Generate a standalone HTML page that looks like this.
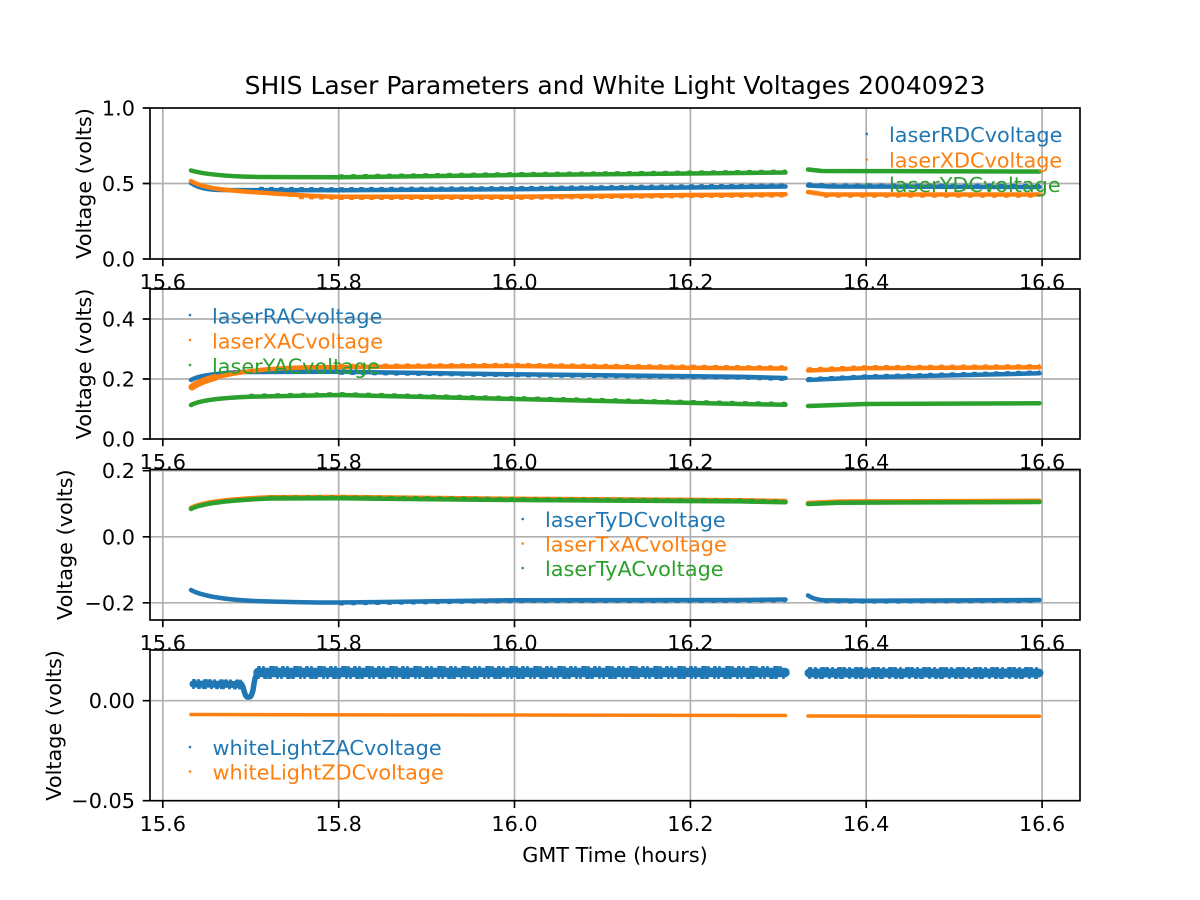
<!DOCTYPE html>
<html>
<head>
<meta charset="utf-8">
<style>
  html,body{margin:0;padding:0;background:#fff;}
  svg{display:block;}
  text{font-family:"DejaVu Sans","Liberation Sans",sans-serif;}
</style>
</head>
<body>
<svg width="1200" height="900" viewBox="0 0 1200 900" xmlns="http://www.w3.org/2000/svg">
<rect x="0" y="0" width="1200" height="900" fill="#fff"/>

<!-- Title -->
<text x="615" y="94" font-size="25" text-anchor="middle" fill="#000">SHIS Laser Parameters and White Light Voltages 20040923</text>

<!-- ================= AXES 1 ================= -->
<g>
  <rect x="150" y="108" width="930" height="151" fill="#fff"/>
  <g stroke="#b0b0b0" stroke-width="1.67" fill="none">
    <path d="M162.8,108V259M338.7,108V259M514.5,108V259M690.4,108V259M866.2,108V259M1042.1,108V259"/>
    <path d="M150,183.5H1080"/>
  </g>
  <g fill="none" stroke-linecap="round" stroke-linejoin="round">
    <!-- blue laserRDC -->
    <path stroke="#1f77b4" stroke-width="4.5" d="M191,183 C197,187 204,189.5 220,190 L340,190.3 L515,189.2 L690,187.5 L785.5,186.5"/>
    <path stroke="#1f77b4" stroke-width="4.5" d="M808,185.5 L830,186.5 L1039.5,187"/>
    <path stroke="#1f77b4" stroke-width="2" stroke-dasharray="3 7" transform="translate(0,-2.2)" d="M260,190 L340,190.3 L515,189.2 L690,187.5 L785.5,186.5"/>
    <path stroke="#1f77b4" stroke-width="2" stroke-dasharray="3 9" transform="translate(0,-2.2)" d="M808,185.5 L830,186.5 L1039.5,187"/>
    <!-- orange laserXDC -->
    <path stroke="#ff7f0e" stroke-width="4.5" d="M191,181 C200,186.5 215,189.5 245,191.5 C285,194.5 315,196.5 340,196.8 L515,196.8 L690,195 L785.5,194.3"/>
    <path stroke="#ff7f0e" stroke-width="4.5" d="M808,192 L825,194.5 L1039.5,194.5"/>
    <path stroke="#ff7f0e" stroke-width="2" stroke-dasharray="3 7" transform="translate(0,2.2)" d="M300,196 L340,196.8 L515,196.8 L690,195 L785.5,194.3"/>
    <path stroke="#ff7f0e" stroke-width="2" stroke-dasharray="3 9" transform="translate(0,2.2)" d="M825,194.5 L1039.5,194.5"/>
    <!-- green laserYDC -->
    <path stroke="#2ca02c" stroke-width="4.5" d="M191,170.5 C205,174.5 225,176.5 260,177 L340,177.3 L515,175 L690,173.5 L785.5,172.5"/>
    <path stroke="#2ca02c" stroke-width="4.5" d="M808,169.5 L822,171 L1039.5,171.5"/>
    <path stroke="#2ca02c" stroke-width="2" stroke-dasharray="3 9" transform="translate(0,-2)" d="M340,177.3 L515,175 L690,173.5 L785.5,172.5"/>
  </g>
  <rect x="150" y="108" width="930" height="151" fill="none" stroke="#000" stroke-width="1.67"/>
  <g stroke="#000" stroke-width="1.67">
    <path d="M142.7,108H150M142.7,183.5H150M142.7,259H150"/>
    <path d="M162.8,259V266.3M338.7,259V266.3M514.5,259V266.3M690.4,259V266.3M866.2,259V266.3M1042.1,259V266.3"/>
  </g>
  <g font-size="20.8" fill="#000">
    <text x="135" y="115.5" text-anchor="end">1.0</text>
    <text x="135" y="191" text-anchor="end">0.5</text>
    <text x="135" y="266.5" text-anchor="end">0.0</text>
    <text x="162.8" y="289" text-anchor="middle">15.6</text>
    <text x="338.7" y="289" text-anchor="middle">15.8</text>
    <text x="514.5" y="289" text-anchor="middle">16.0</text>
    <text x="690.4" y="289" text-anchor="middle">16.2</text>
    <text x="866.2" y="289" text-anchor="middle">16.4</text>
    <text x="1042.1" y="289" text-anchor="middle">16.6</text>
    <text transform="translate(91,183.5) rotate(-90)" text-anchor="middle">Voltage (volts)</text>
  </g>
  <g font-size="20.8">
    <circle cx="866.7" cy="134" r="1.3" fill="#1f77b4"/>
    <circle cx="866.7" cy="159.5" r="1.3" fill="#ff7f0e"/>
    <circle cx="866.7" cy="184" r="1.3" fill="#2ca02c"/>
    <text x="889" y="142" fill="#1f77b4">laserRDCvoltage</text>
    <text x="889" y="167.5" fill="#ff7f0e">laserXDCvoltage</text>
    <text x="889" y="192" fill="#2ca02c">laserYDCvoltage</text>
  </g>
</g>

<!-- ================= AXES 2 ================= -->
<g>
  <rect x="150" y="289" width="930" height="150" fill="#fff"/>
  <g stroke="#b0b0b0" stroke-width="1.67" fill="none">
    <path d="M162.8,289V439M338.7,289V439M514.5,289V439M690.4,289V439M866.2,289V439M1042.1,289V439"/>
    <path d="M150,319H1080M150,379H1080"/>
  </g>
  <g fill="none" stroke-linecap="round" stroke-linejoin="round">
    <!-- blue laserRAC -->
    <path stroke="#1f77b4" stroke-width="4.5" d="M191,380 C198,376 210,374 240,372 L340,371.8 L515,374.3 L740,376.7 L785.5,378"/>
    <path stroke="#1f77b4" stroke-width="4.5" d="M808,380 L866,377.3 L1039.5,373.3"/>
    <path stroke="#1f77b4" stroke-width="2" stroke-dasharray="3 8" transform="translate(0,2)" d="M340,371.8 L515,374.3 L740,376.7 L785.5,378"/>
    <path stroke="#1f77b4" stroke-width="2" stroke-dasharray="3 8" transform="translate(0,-2)" d="M808,380 L866,377.3 L1039.5,373.3"/>
    <!-- orange laserXAC -->
    <path stroke="#ff7f0e" stroke-width="4.5" d="M191,386.7 C200,380 225,374 260,370 C285,367.5 310,367 340,367 L515,366 L740,368.3 L785.5,368.5"/>
    <path stroke="#ff7f0e" stroke-width="7" d="M192,387 C198,383 205,380 215,377.5"/>
    <path stroke="#ff7f0e" stroke-width="4.5" d="M808,370.5 L866,368.3 L1039.5,367.3"/>
    <path stroke="#ff7f0e" stroke-width="2" stroke-dasharray="3 8" transform="translate(0,-2.2)" d="M340,367 L515,366 L740,368.3 L785.5,368.5"/>
    <path stroke="#ff7f0e" stroke-width="2" stroke-dasharray="3 8" transform="translate(0,-2.2)" d="M808,370.5 L866,368.3 L1039.5,367.3"/>
    <!-- green laserYAC -->
    <path stroke="#2ca02c" stroke-width="4.5" d="M191,405 C198,401 215,398 250,396.7 L340,395 L515,399 L740,404 L785.5,404.7"/>
    <path stroke="#2ca02c" stroke-width="4.5" d="M808,406 L866,404 L1039.5,403.3"/>
    <path stroke="#2ca02c" stroke-width="2" stroke-dasharray="3 10" transform="translate(0,-2)" d="M250,396.7 L340,395 L515,399 L740,404 L785.5,404.7"/>
  </g>
  <rect x="150" y="289" width="930" height="150" fill="none" stroke="#000" stroke-width="1.67"/>
  <g stroke="#000" stroke-width="1.67">
    <path d="M142.7,319H150M142.7,379H150M142.7,439H150"/>
    <path d="M162.8,439V446.3M338.7,439V446.3M514.5,439V446.3M690.4,439V446.3M866.2,439V446.3M1042.1,439V446.3"/>
  </g>
  <g font-size="20.8" fill="#000">
    <text x="135" y="326.5" text-anchor="end">0.4</text>
    <text x="135" y="386.5" text-anchor="end">0.2</text>
    <text x="135" y="446.5" text-anchor="end">0.0</text>
    <text x="162.8" y="469" text-anchor="middle">15.6</text>
    <text x="338.7" y="469" text-anchor="middle">15.8</text>
    <text x="514.5" y="469" text-anchor="middle">16.0</text>
    <text x="690.4" y="469" text-anchor="middle">16.2</text>
    <text x="866.2" y="469" text-anchor="middle">16.4</text>
    <text x="1042.1" y="469" text-anchor="middle">16.6</text>
    <text transform="translate(91,364) rotate(-90)" text-anchor="middle">Voltage (volts)</text>
  </g>
  <g font-size="20.8">
    <circle cx="190" cy="315" r="1.3" fill="#1f77b4"/>
    <circle cx="190" cy="340" r="1.3" fill="#ff7f0e"/>
    <circle cx="190" cy="365" r="1.3" fill="#2ca02c"/>
    <text x="212" y="323.5" fill="#1f77b4">laserRACvoltage</text>
    <text x="212" y="348.5" fill="#ff7f0e">laserXACvoltage</text>
    <text x="212" y="373.5" fill="#2ca02c">laserYACvoltage</text>
  </g>
</g>

<!-- ================= AXES 3 ================= -->
<g>
  <rect x="150" y="469.5" width="930" height="150.5" fill="#fff"/>
  <g stroke="#b0b0b0" stroke-width="1.67" fill="none">
    <path d="M162.8,469.5V620M338.7,469.5V620M514.5,469.5V620M690.4,469.5V620M866.2,469.5V620M1042.1,469.5V620"/>
    <path d="M150,470.7H1080M150,536.8H1080M150,602.8H1080"/>
  </g>
  <g fill="none" stroke-linecap="round" stroke-linejoin="round">
    <!-- blue laserTyDC -->
    <path stroke="#1f77b4" stroke-width="4.5" d="M191,590 C200,595 220,599 250,600.8 C280,602 310,602.5 340,602.5 L515,600.2 L740,600 L785.5,599.5"/>
    <path stroke="#1f77b4" stroke-width="4.5" d="M808,595.5 C812,598 816,599.8 825,600.3 L866,600.7 L1039.5,600"/>
    <path stroke="#1f77b4" stroke-width="2" stroke-dasharray="3 9" transform="translate(0,2)" d="M340,602.5 L515,600.2 L740,600 L785.5,599.5"/>
    <path stroke="#1f77b4" stroke-width="2" stroke-dasharray="3 9" transform="translate(0,2)" d="M825,600.3 L866,600.7 L1039.5,600"/>
    <!-- orange laserTxAC -->
    <path stroke="#ff7f0e" stroke-width="4.5" d="M191,507.8 C200,503 225,499 270,497.3 L340,497 L515,498.8 L740,500.2 L785.5,501"/>
    <path stroke="#ff7f0e" stroke-width="4.5" d="M808,503 L840,501.5 L1039.5,500.8"/>
    <!-- green laserTyAC -->
    <path stroke="#2ca02c" stroke-width="4.5" d="M191,509 C200,504 225,500.3 270,498.5 L340,498.3 L515,500 L740,501.4 L785.5,502.3"/>
    <path stroke="#2ca02c" stroke-width="4.5" d="M808,504 L840,502.7 L1039.5,502"/>
    <path stroke="#2ca02c" stroke-width="2" stroke-dasharray="3 9" transform="translate(0,-2)" d="M270,498.5 L340,498.3 L515,500 L740,501.4 L785.5,502.3"/>
  </g>
  <rect x="150" y="469.5" width="930" height="150.5" fill="none" stroke="#000" stroke-width="1.67"/>
  <g stroke="#000" stroke-width="1.67">
    <path d="M142.7,470.7H150M142.7,536.8H150M142.7,602.8H150"/>
    <path d="M162.8,620V627.3M338.7,620V627.3M514.5,620V627.3M690.4,620V627.3M866.2,620V627.3M1042.1,620V627.3"/>
  </g>
  <g font-size="20.8" fill="#000">
    <text x="135" y="478.2" text-anchor="end">0.2</text>
    <text x="135" y="544.3" text-anchor="end">0.0</text>
    <text x="135" y="610.3" text-anchor="end">−0.2</text>
    <text x="162.8" y="650" text-anchor="middle">15.6</text>
    <text x="338.7" y="650" text-anchor="middle">15.8</text>
    <text x="514.5" y="650" text-anchor="middle">16.0</text>
    <text x="690.4" y="650" text-anchor="middle">16.2</text>
    <text x="866.2" y="650" text-anchor="middle">16.4</text>
    <text x="1042.1" y="650" text-anchor="middle">16.6</text>
    <text transform="translate(72,544.7) rotate(-90)" text-anchor="middle">Voltage (volts)</text>
  </g>
  <g font-size="20.8">
    <circle cx="522.7" cy="519" r="1.3" fill="#1f77b4"/>
    <circle cx="522.7" cy="543.5" r="1.3" fill="#ff7f0e"/>
    <circle cx="522.7" cy="568" r="1.3" fill="#2ca02c"/>
    <text x="545" y="527" fill="#1f77b4">laserTyDCvoltage</text>
    <text x="545" y="551.5" fill="#ff7f0e">laserTxACvoltage</text>
    <text x="545" y="576" fill="#2ca02c">laserTyACvoltage</text>
  </g>
</g>

<!-- ================= AXES 4 ================= -->
<g>
  <rect x="150" y="650" width="930" height="150.7" fill="#fff"/>
  <g stroke="#b0b0b0" stroke-width="1.67" fill="none">
    <path d="M162.8,650V800.7M338.7,650V800.7M514.5,650V800.7M690.4,650V800.7M866.2,650V800.7M1042.1,650V800.7"/>
    <path d="M150,700.7H1080"/>
  </g>
  <g fill="none" stroke-linecap="round" stroke-linejoin="round">
    <!-- blue whiteLightZAC -->
    <path stroke="#1f77b4" stroke-width="7" d="M193,684 L241,684.5"/>
    <path stroke="#1f77b4" stroke-width="2" stroke-dasharray="2 3 1 5 3 2" transform="translate(0,-4)" d="M193,684 L241,684.5"/>
    <path stroke="#1f77b4" stroke-width="2" stroke-dasharray="1 4 2 3 3 5" transform="translate(0,4)" d="M193,684 L241,684.5"/>
    <path stroke="#1f77b4" stroke-width="5.5" d="M241,684.5 C244,685 244,696.5 247.5,697 C251,697.5 251.5,696 253,690 C254.5,681 255,674 259,672.5"/>
    <path stroke="#1f77b4" stroke-width="9.5" d="M258,672.5 L785,672.5"/>
    <path stroke="#1f77b4" stroke-width="2" stroke-dasharray="2 3 1 6 4 2 1 5" transform="translate(0,-5.5)" d="M258,672.5 L785,672.5"/>
    <path stroke="#1f77b4" stroke-width="2" stroke-dasharray="1 5 3 2 2 6 1 3" transform="translate(0,5.5)" d="M258,672.5 L785,672.5"/>
    <path stroke="#1f77b4" stroke-width="9" d="M809,673 L1039,673"/>
    <path stroke="#1f77b4" stroke-width="2" stroke-dasharray="2 4 1 5 3 2" transform="translate(0,-5)" d="M809,673 L1039,673"/>
    <path stroke="#1f77b4" stroke-width="2" stroke-dasharray="1 5 2 3 3 6" transform="translate(0,5)" d="M809,673 L1039,673"/>
    <!-- orange whiteLightZDC -->
    <path stroke="#ff7f0e" stroke-width="3.5" d="M191,714.5 L785.5,715.5"/>
    <path stroke="#ff7f0e" stroke-width="3.5" d="M808,716 L1039.5,716.3"/>
  </g>
  <rect x="150" y="650" width="930" height="150.7" fill="none" stroke="#000" stroke-width="1.67"/>
  <g stroke="#000" stroke-width="1.67">
    <path d="M142.7,700.7H150M142.7,800.7H150"/>
    <path d="M162.8,800.7V808M338.7,800.7V808M514.5,800.7V808M690.4,800.7V808M866.2,800.7V808M1042.1,800.7V808"/>
  </g>
  <g font-size="20.8" fill="#000">
    <text x="135" y="708.2" text-anchor="end">0.00</text>
    <text x="135" y="808.2" text-anchor="end">−0.05</text>
    <text x="162.8" y="831" text-anchor="middle">15.6</text>
    <text x="338.7" y="831" text-anchor="middle">15.8</text>
    <text x="514.5" y="831" text-anchor="middle">16.0</text>
    <text x="690.4" y="831" text-anchor="middle">16.2</text>
    <text x="866.2" y="831" text-anchor="middle">16.4</text>
    <text x="1042.1" y="831" text-anchor="middle">16.6</text>
    <text transform="translate(61,725.4) rotate(-90)" text-anchor="middle">Voltage (volts)</text>
    <text x="615" y="862" text-anchor="middle">GMT Time (hours)</text>
  </g>
  <g font-size="20.8">
    <circle cx="190" cy="747" r="1.3" fill="#1f77b4"/>
    <circle cx="190" cy="771.5" r="1.3" fill="#ff7f0e"/>
    <text x="212.5" y="755" fill="#1f77b4">whiteLightZACvoltage</text>
    <text x="212.5" y="779.5" fill="#ff7f0e">whiteLightZDCvoltage</text>
  </g>
</g>
</svg>
</body>
</html>
